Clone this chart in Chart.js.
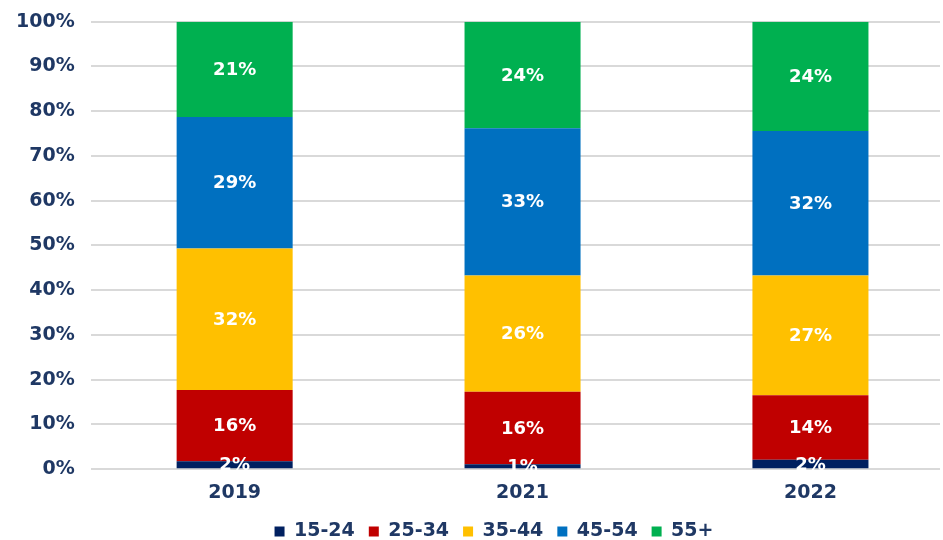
<!DOCTYPE html>
<html>
<head>
<meta charset="utf-8">
<script src="https://cdn.jsdelivr.net/npm/chart.js@4.4.1/dist/chart.umd.min.js"></script>
<style>
    html, body { margin: 0; padding: 0; background: #fff; }
    #wrap { width: 943px; height: 540px; }
</style>
</head>
<body>
<div id="wrap"><canvas id="ageChart"></canvas></div>
<script>
// Dados (percentual por faixa etária)
const years = ['2019', '2021', '2022'];
const ageGroups = ['15-24', '25-34', '35-44', '45-54', '55+'];
const share15to24 = [1.8, 1.1, 2.1];
const share25to34 = [15.9, 16.2, 14.4];
const share35to44 = [31.6, 26.0, 26.8];
const share45to54 = [29.4, 32.9, 32.3];
const share55plus = [21.3, 23.8, 24.4];
const yTicks = [0, 10, 20, 30, 40, 50, 60, 70, 80, 90, 100];

const seriesValues = [share15to24, share25to34, share35to44, share45to54, share55plus];
const seriesColors = ['#002060', '#C00000', '#FFC000', '#0070C0', '#00B050'];
const textColor = '#1F3864';
const fontFamily = "'DejaVu Sans', Verdana, sans-serif";

// Rótulos de valor no centro de cada segmento
const segmentLabels = {
    id: 'segmentLabels',
    afterDatasetsDraw(chart) {
        const ctx = chart.ctx;
        ctx.save();
        ctx.font = 'bold 18px ' + fontFamily;
        ctx.fillStyle = '#ffffff';
        ctx.textAlign = 'center';
        ctx.textBaseline = 'middle';
        chart.data.datasets.forEach((ds, i) => {
            const meta = chart.getDatasetMeta(i);
            meta.data.forEach((bar, j) => {
                const mid = (bar.y + bar.base) / 2;
                ctx.fillText(Math.round(ds.data[j].y) + '%', bar.x, mid + 1);
            });
        });
        ctx.restore();
    }
};

// Legenda levemente deslocada para a direita, como no original
const legendShift = {
    id: 'legendShift',
    afterLayout(chart) {
        if (chart.legend) {
            chart.legend.left += 24;
            chart.legend.right += 24;
        }
    }
};

function buildDatasets() {
    return ageGroups.map((name, i) => ({
        label: name,
        data: seriesValues[i].map((v, j) => ({ x: j, y: v })),
        backgroundColor: seriesColors[i],
        borderWidth: 0,
        barPercentage: 0.403,
        categoryPercentage: 1
    }));
}

document.addEventListener('DOMContentLoaded', () => {
    const ctx = document.getElementById('ageChart');

    new Chart(ctx, {
        type: 'bar',
        data: { datasets: buildDatasets() },
        options: {
            responsive: true,
            maintainAspectRatio: false,
            animation: false,
            layout: {
                padding: { left: 0, right: 3, top: 0, bottom: -11 }
            },
            plugins: {
                legend: {
                    position: 'bottom',
                    labels: {
                        boxWidth: 10,
                        boxHeight: 10,
                        padding: 14,
                        color: textColor,
                        font: { family: fontFamily, size: 19, weight: 'bold' }
                    }
                },
                tooltip: { enabled: false }
            },
            scales: {
                x: {
                    type: 'linear',
                    stacked: true,
                    offset: false,
                    min: -0.5,
                    max: 2.45,
                    grid: { display: false },
                    border: { display: false },
                    afterBuildTicks: (axis) => {
                        axis.ticks = years.map((_, i) => ({ value: i }));
                    },
                    ticks: {
                        color: textColor,
                        padding: 4,
                        font: { family: fontFamily, size: 19, weight: 'bold' },
                        callback: (v) => years[v]
                    }
                },
                y: {
                    stacked: true,
                    min: 0,
                    max: 100,
                    grid: { color: '#D9D9D9', lineWidth: 2, drawTicks: false },
                    border: { display: false },
                    afterBuildTicks: (axis) => {
                        axis.ticks = yTicks.map(v => ({ value: v }));
                    },
                    ticks: {
                        color: textColor,
                        padding: 16,
                        font: { family: fontFamily, size: 19, weight: 'bold', lineHeight: 0.6 },
                        callback: (v) => v + '%'
                    }
                }
            }
        },
        plugins: [segmentLabels, legendShift]
    });
});
</script>
</body>
</html>
